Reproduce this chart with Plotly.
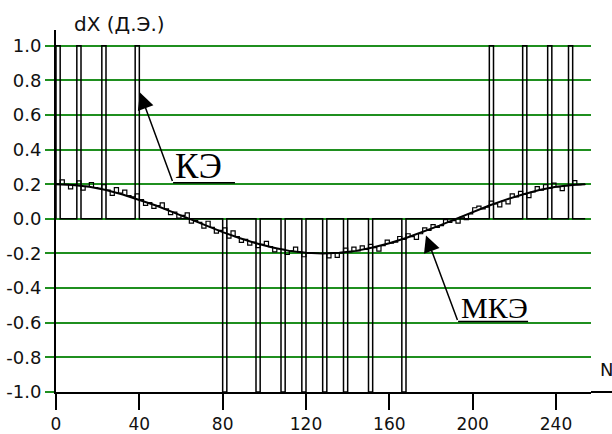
import plotly.graph_objects as go

# --- data -------------------------------------------------------------
# element-type indicator (КЭ): pulses of height +1 / -1, two nodes wide
ke_pos_start = [0, 10, 22, 38, 208, 224, 236, 246]
ke_neg_start = [80, 96, 108, 118, 128, 138, 150, 166]
ke_amp = 1.0
ke_width = 2
ke_last_n = 254

# МКЭ solution: smooth envelope
mke_env_n = [0, 8, 16, 24, 32, 40, 48, 56, 64, 72, 80, 88, 96, 104, 112, 120,
             128, 136, 144, 152, 160, 168, 176, 184, 192, 200, 208, 216, 224,
             232, 240, 248, 254]
mke_env = [0.200, 0.196, 0.185, 0.166, 0.141, 0.111, 0.077, 0.039, 0.000,
           -0.039, -0.077, -0.111, -0.141, -0.166, -0.185, -0.196, -0.200,
           -0.196, -0.185, -0.166, -0.141, -0.111, -0.077, -0.039, 0.000,
           0.039, 0.077, 0.111, 0.141, 0.166, 0.185, 0.196, 0.200]

# МКЭ solution: nodal values (every 2nd node)
mke_node_n = list(range(0, 256, 2))
mke_node = [
    0.200, 0.225, 0.199, 0.173, 0.196, 0.219, 0.166, 0.188,
    0.210, 0.181, 0.176, 0.197, 0.166, 0.136, 0.180, 0.148,
    0.166, 0.134, 0.127, 0.144, 0.111, 0.078, 0.094, 0.061,
    0.077, 0.092, 0.058, 0.024, 0.039, 0.004, 0.020, 0.035,
    -0.025, -0.010, -0.020, -0.054, -0.014, -0.049, -0.083, -0.067,
    -0.052, -0.111, -0.069, -0.103, -0.136, -0.119, -0.152, -0.134,
    -0.166, -0.148, -0.130, -0.161, -0.191, -0.172, -0.176, -0.206,
    -0.185, -0.163, -0.191, -0.219, -0.196, -0.198, -0.199, -0.200,
    -0.200, -0.225, -0.199, -0.223, -0.196, -0.169, -0.191, -0.163,
    -0.185, -0.156, -0.176, -0.147, -0.166, -0.186, -0.155, -0.123,
    -0.141, -0.134, -0.102, -0.119, -0.086, -0.103, -0.119, -0.086,
    -0.052, -0.067, -0.033, -0.049, -0.039, -0.004, -0.020, -0.010,
    -0.025, 0.010, -0.005, 0.029, 0.064, 0.074, 0.058, 0.067,
    0.102, 0.086, 0.069, 0.103, 0.086, 0.144, 0.127, 0.159,
    0.141, 0.123, 0.155, 0.186, 0.166, 0.197, 0.176, 0.206,
    0.185, 0.163, 0.191, 0.194, 0.221, 0.198, 0.199, 0.200,
]

y_ticks = [1.0, 0.8, 0.6, 0.4, 0.2, 0.0, -0.2, -0.4, -0.6, -0.8, -1.0]
y_tick_text = ["1.0", "0.8", "0.6", "0.4", "0.2", "0.0",
               "-0.2", "-0.4", "-0.6", "-0.8", "-1.0"]
x_ticks = [0, 40, 80, 120, 160, 200, 240]
x_tick_text = ["0", "40", "80", "120", "160", "200", "240"]

# --- pulse outline for КЭ ---------------------------------------------
pulses = sorted([(s, ke_amp) for s in ke_pos_start] +
                [(s, -ke_amp) for s in ke_neg_start])
ke_x, ke_y = [0], [0]
for s, v in pulses:
    ke_x += [s, s, s + ke_width, s + ke_width]
    ke_y += [0, v, v, 0]
ke_x.append(ke_last_n)
ke_y.append(0)

BLACK = "#000000"
GREEN = "#1f8f1f"
X_MAX = 256.8
Y_MIN, Y_MAX = -1.0, 1.0906

fig = go.Figure()
fig.add_trace(go.Scatter(x=ke_x, y=ke_y, mode="lines",
                         line=dict(color=BLACK, width=1.5),
                         showlegend=False, hoverinfo="skip"))
fig.add_trace(go.Scatter(x=mke_env_n, y=mke_env, mode="lines",
                         line=dict(color=BLACK, width=2),
                         showlegend=False, hoverinfo="skip"))
fig.add_trace(go.Scatter(x=mke_node_n, y=mke_node, mode="lines",
                         line=dict(color=BLACK, width=1.2, shape="hv"),
                         showlegend=False, hoverinfo="skip"))

fig.update_layout(
    width=612, height=434, autosize=False,
    margin=dict(l=56, r=21, t=30, b=42, pad=0),
    paper_bgcolor="white", plot_bgcolor="white",
    xaxis=dict(range=[0, X_MAX], tickmode="array", tickvals=x_ticks,
               ticktext=x_tick_text, showgrid=False, zeroline=False,
               showline=True, linecolor=BLACK, linewidth=2,
               ticks="outside", ticklen=16, tickwidth=2, tickcolor=BLACK,
               tickfont=dict(family="DejaVu Sans", size=17, color="#111111"),
               automargin=False),
    yaxis=dict(range=[Y_MIN, Y_MAX], tickmode="array", tickvals=y_ticks,
               ticktext=y_tick_text, showgrid=True, gridcolor=GREEN,
               gridwidth=2, zeroline=False, showline=True, linecolor=BLACK,
               linewidth=2, ticks="outside", ticklen=9, tickwidth=2,
               tickcolor=GREEN,
               tickfont=dict(family="DejaVu Sans", size=18, color="#111111"),
               automargin=False),
)

# x-axis line continues past the plotting area
fig.add_shape(type="line", xref="paper", yref="paper", x0=1, x1=1.05,
              y0=0, y1=0, line=dict(color=BLACK, width=2))

# callouts
fig.add_annotation(x=40.3, y=0.729, xref="x", yref="y", text="",
                   showarrow=True, arrowhead=2, arrowsize=2.2,
                   arrowwidth=1.5, arrowcolor=BLACK, ax=33, ay=90)
fig.add_shape(type="line", xref="x", yref="y", x0=56.2, x1=85.9,
              y0=0.208, y1=0.208, line=dict(color=BLACK, width=1.5))
fig.add_annotation(x=56.0, y=0.30, xref="x", yref="y", text="КЭ",
                   showarrow=False, xanchor="left", yanchor="middle",
                   font=dict(family="Liberation Serif", size=35,
                             color=BLACK))

fig.add_annotation(x=177.6, y=-0.096, xref="x", yref="y", text="",
                   showarrow=True, arrowhead=2, arrowsize=2.2,
                   arrowwidth=1.5, arrowcolor=BLACK, ax=32, ay=86)
fig.add_shape(type="line", xref="x", yref="y", x0=193.0, x1=226.6,
              y0=-0.593, y1=-0.593, line=dict(color=BLACK, width=1.5))
fig.add_annotation(x=193.6, y=-0.51, xref="x", yref="y", text="МКЭ",
                   showarrow=False, xanchor="left", yanchor="middle",
                   font=dict(family="Liberation Serif", size=30,
                             color=BLACK))

# axis captions
fig.add_annotation(x=0.030, y=1.0166, xref="paper", yref="paper",
                   text="dX (Д.Э.)", showarrow=False, xanchor="left",
                   yanchor="middle", font=dict(family="DejaVu Sans", size=20,
                                               color="#111111"))
fig.add_annotation(x=1.013, y=0.0635, xref="paper", yref="paper",
                   text="N", showarrow=False, xanchor="left",
                   yanchor="middle", font=dict(family="DejaVu Sans", size=18,
                                               color="#111111"))

fig.write_html("out.html")
